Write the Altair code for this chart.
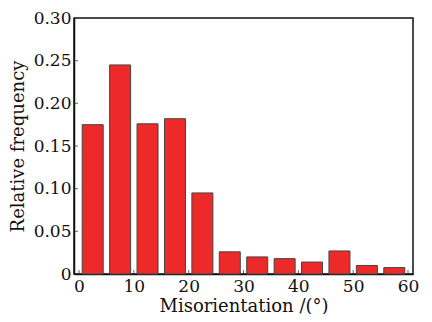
import altair as alt
import pandas as pd

centers = [2.5, 7.5, 12.5, 17.5, 22.5, 27.5, 32.5, 37.5, 42.5, 47.5, 52.5, 57.5]
freq = [0.175, 0.245, 0.176, 0.182, 0.095, 0.026, 0.020, 0.018, 0.014, 0.027, 0.010, 0.0075]
x_ticks = [0, 10, 20, 30, 40, 50, 60]
y_ticks = [0, 0.05, 0.10, 0.15, 0.20, 0.25, 0.30]

W, H = 339, 256
FONT = "DejaVu Serif"

df = pd.DataFrame({"angle": centers, "freq": freq})
xt = pd.DataFrame({"v": x_ticks})
yt = pd.DataFrame({"v": y_ticks})

xscale = alt.Scale(domain=[0, 60], nice=False, zero=False)
yscale = alt.Scale(domain=[0, 0.3], nice=False)

bars = alt.Chart(df).mark_bar(
    size=21, color="#EE2929", stroke="#444444", strokeWidth=1
).encode(
    x=alt.X("angle:Q", scale=xscale,
            axis=alt.Axis(values=x_ticks, title="Misorientation /(°)", format="d",
                          ticks=False, domain=True, domainColor="#111", domainWidth=1.5,
                          grid=False,
                          labelFontSize=17, titleFontSize=18, labelPadding=4,
                          titlePadding=3, labelFont=FONT, titleFont=FONT,
                          labelColor="#111", titleColor="#111", titleFontWeight="normal")),
    y=alt.Y("freq:Q", scale=yscale,
            axis=alt.Axis(values=y_ticks, title="Relative frequency",
                          labelExpr="datum.value == 0 ? '0' : format(datum.value, '.2f')",
                          ticks=False, domain=True, domainColor="#111", domainWidth=1.5,
                          grid=False,
                          labelFontSize=17, titleFontSize=18, labelPadding=3,
                          titlePadding=6, labelFont=FONT, titleFont=FONT,
                          labelColor="#111", titleColor="#111", titleFontWeight="normal")),
)

xticks = alt.Chart(xt).mark_tick(orient="vertical", size=8, thickness=1, color="#222", clip=True).encode(
    x=alt.X("v:Q", scale=xscale), y=alt.value(H)
)
yticks = alt.Chart(yt).mark_tick(orient="horizontal", size=8, thickness=1, color="#222", clip=True).encode(
    y=alt.Y("v:Q", scale=yscale), x=alt.value(0)
)

chart = alt.layer(bars, xticks, yticks).properties(
    width=W, height=H,
    background="white",
    autosize=alt.AutoSizeParams(type="none"),
    padding={"left": 66, "top": 10, "right": 11, "bottom": 40},
).configure_view(stroke="#111111", strokeWidth=1.5)

chart.save("out.html", embed_options={"renderer": "svg", "actions": False})
